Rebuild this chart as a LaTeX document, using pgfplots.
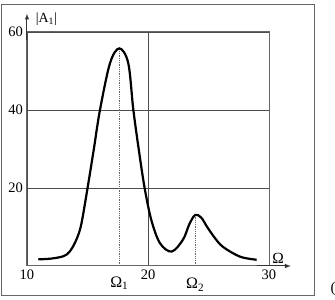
\documentclass[border=0pt]{standalone}
\usepackage{fontspec}
\setmainfont{Liberation Serif}
\usepackage{pgfplots}
\pgfplotsset{compat=1.18}
\begin{document}
\fontsize{14}{16}\selectfont
\begin{tikzpicture}[x=1pt,y=1pt]
\useasboundingbox (0,0) rectangle (335,300);
\draw[color=black!60, line width=1pt] (1,4) rectangle (314,295);
\node[anchor=center, font=\fontsize{15}{17}\selectfont] at (333,11) {(};
\begin{axis}[
  at={(27pt,34pt)}, anchor=south west,
  scale only axis, width=242pt, height=234pt,
  xmin=10, xmax=30, ymin=0, ymax=60,
  xtick={10,20,30}, ytick={20,40,60},
  /pgf/number format/assume math mode=true,
  major tick length=0pt,
  grid=major,
  major grid style={color=black!70, line width=0.8pt},
  axis line style={color=black!60, line width=1pt},
  tick label style={font=\fontsize{14.5}{17}\selectfont},
  xticklabel style={inner sep=1pt, yshift=-3pt},
  yticklabel style={inner sep=1pt, xshift=-3pt},
  clip=false,
]
\addplot[black!60, densely dotted, line width=0.8pt] coordinates {(17.63,0) (17.63,55.8)};
\addplot[black!60, densely dotted, line width=0.8pt] coordinates {(23.9,0) (23.9,13.1)};
\addplot[black, line width=2.2pt, smooth, tension=0.55] coordinates {
(10.93,1.7) (12.0,1.9) (13.0,2.5) (13.5,3.6) (14.0,6.2) (14.45,10.2) (14.93,18.6) (15.5,29.5) (16.03,40) (16.86,52) (17.63,55.8) (18.37,52) (18.79,40) (19.3,28.5) (19.75,19.5) (20.3,11.5) (21.0,5.8) (21.96,3.7) (22.9,6.8) (23.4,10.6) (23.9,13.1) (24.4,12.4) (24.85,10.2) (25.5,7.3) (26.2,4.9) (27.6,2.4) (28.98,1.6)};
\draw[black!80, line width=1pt, -latex] (axis cs:10,58) -- (axis cs:10,64.7);
\draw[black!80, line width=1pt, -latex] (axis cs:29,0) -- (axis cs:31.8,0);
\node[font=\fontsize{14}{16}\selectfont] at (axis cs:11.6,63.3) {|A\textsubscript{1}|};
\node[font=\fontsize{15.5}{17}\selectfont] at (axis cs:30.75,2.0) {Ω};
\node[font=\fontsize{16}{18}\selectfont] at (axis cs:17.63,-4.4) {Ω\textsubscript{1}};
\node[font=\fontsize{16}{18}\selectfont] at (axis cs:23.9,-4.8) {Ω\textsubscript{2}};
\end{axis}
\end{tikzpicture}
\end{document}
